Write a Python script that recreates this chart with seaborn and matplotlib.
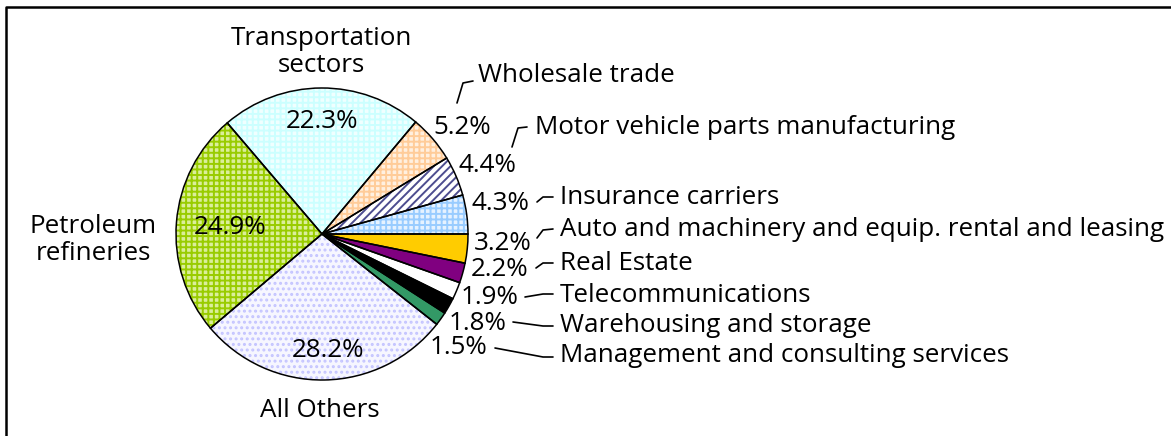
import matplotlib.pyplot as plt
import seaborn as sns

sns.set_style("white")
plt.rcParams['font.family'] = ['Open Sans', 'DejaVu Sans']
plt.rcParams['text.color'] = 'black'
plt.rcParams['hatch.linewidth'] = 1.4

# slices, counter-clockwise from 3 o'clock
sectors = ["Insurance carriers", "Motor vehicle parts manufacturing", "Wholesale trade",
           "Transportation\nsectors", "Petroleum\nrefineries", "All Others",
           "Management and consulting services", "Warehousing and storage",
           "Telecommunications", "Real Estate",
           "Auto and machinery and equip. rental and leasing"]
shares = [4.3, 4.4, 5.2, 22.3, 24.9, 28.2, 1.5, 1.8, 1.9, 2.2, 3.2]

faces = ["#e6f2ff", "white", "#fff0e0", "#f0ffff", "#dbee9a", "#f6f6ff",
         "#339966", "black", "white", "#800080", "#ffcc00"]
hatch_cols = ["#99ccff", "#4d4d8f", "#ffcc99", "#ccffff", "#99cc00", "#c4c4ff",
              "#339966", "black", "white", "#800080", "#ffcc00"]
hatches = ["+++", "////", "+++", "+++", "+++", "...", "", "", "", "", ""]

W, H = 1171, 436
fig = plt.figure(figsize=(W / 100, H / 100), dpi=100)
ax = fig.add_axes([0, 0, 1, 1])

def px(x, y):
    return x, H - y

cx, cy = px(322, 234)
R = 146

wedges, _ = ax.pie(shares, startangle=0, counterclock=True, center=(cx, cy), radius=R,
                   colors=faces, wedgeprops=dict(linewidth=0))
for w, hc, h in zip(wedges, hatch_cols, hatches):
    w.set_edgecolor(hc)
    w.set_hatch(h)
# outlines on top
ax.pie(shares, startangle=0, counterclock=True, center=(cx, cy), radius=R,
       wedgeprops=dict(fill=False, edgecolor="black", linewidth=1.1))

fs = 18.75
# percentage labels (pixel layout)
pct_xy = [(500, 203), (487, 165), (462, 127), (322, 122), (230, 228), (328, 350),
          (458, 347), (478, 323), (490, 298), (500, 270), (503, 243)]
for v, (x, y) in zip(shares, pct_xy):
    ax.text(*px(x, y), f"{v}%", ha="center", va="center", fontsize=fs)

# category labels
name_xy = [(560, 198, "left"), (535, 127, "left"), (478, 76, "left"),
           (321, 52, "center"), (93, 240, "center"), (320, 410, "center"),
           (560, 355, "left"), (560, 325, "left"), (560, 295, "left"),
           (560, 264, "left"), (560, 230, "left")]
for name, (x, y, ha) in zip(sectors, name_xy):
    ax.text(*px(x, y), name, ha=ha, va="center", fontsize=fs, linespacing=1.1)

# leader lines
leaders = [
    [(537, 202), (543, 197), (553, 197)],
    [(512, 147), (518, 128), (527, 127)],
    [(457, 103), (463, 83), (473, 81)],
    None, None, None,
    [(495, 348), (543, 357), (553, 357)],
    [(513, 322), (543, 326), (553, 326)],
    [(525, 297), (543, 294), (553, 294)],
    [(536, 268), (543, 263), (553, 263)],
    [(537, 238), (543, 230), (553, 229)],
]
for pts in leaders:
    if pts:
        xs, ys = zip(*[px(x, y) for x, y in pts])
        ax.plot(xs, ys, color="black", lw=1.2)

# chart border (runs off the right and bottom edges)
bx, by = zip(*[px(6, 440), px(6, 7), px(1180, 7)])
ax.plot(bx, by, color="black", lw=1.8)

ax.set_xlim(0, W)
ax.set_ylim(0, H)
ax.set_aspect("auto")
ax.axis("off")
fig.savefig("out.png", dpi=100)
